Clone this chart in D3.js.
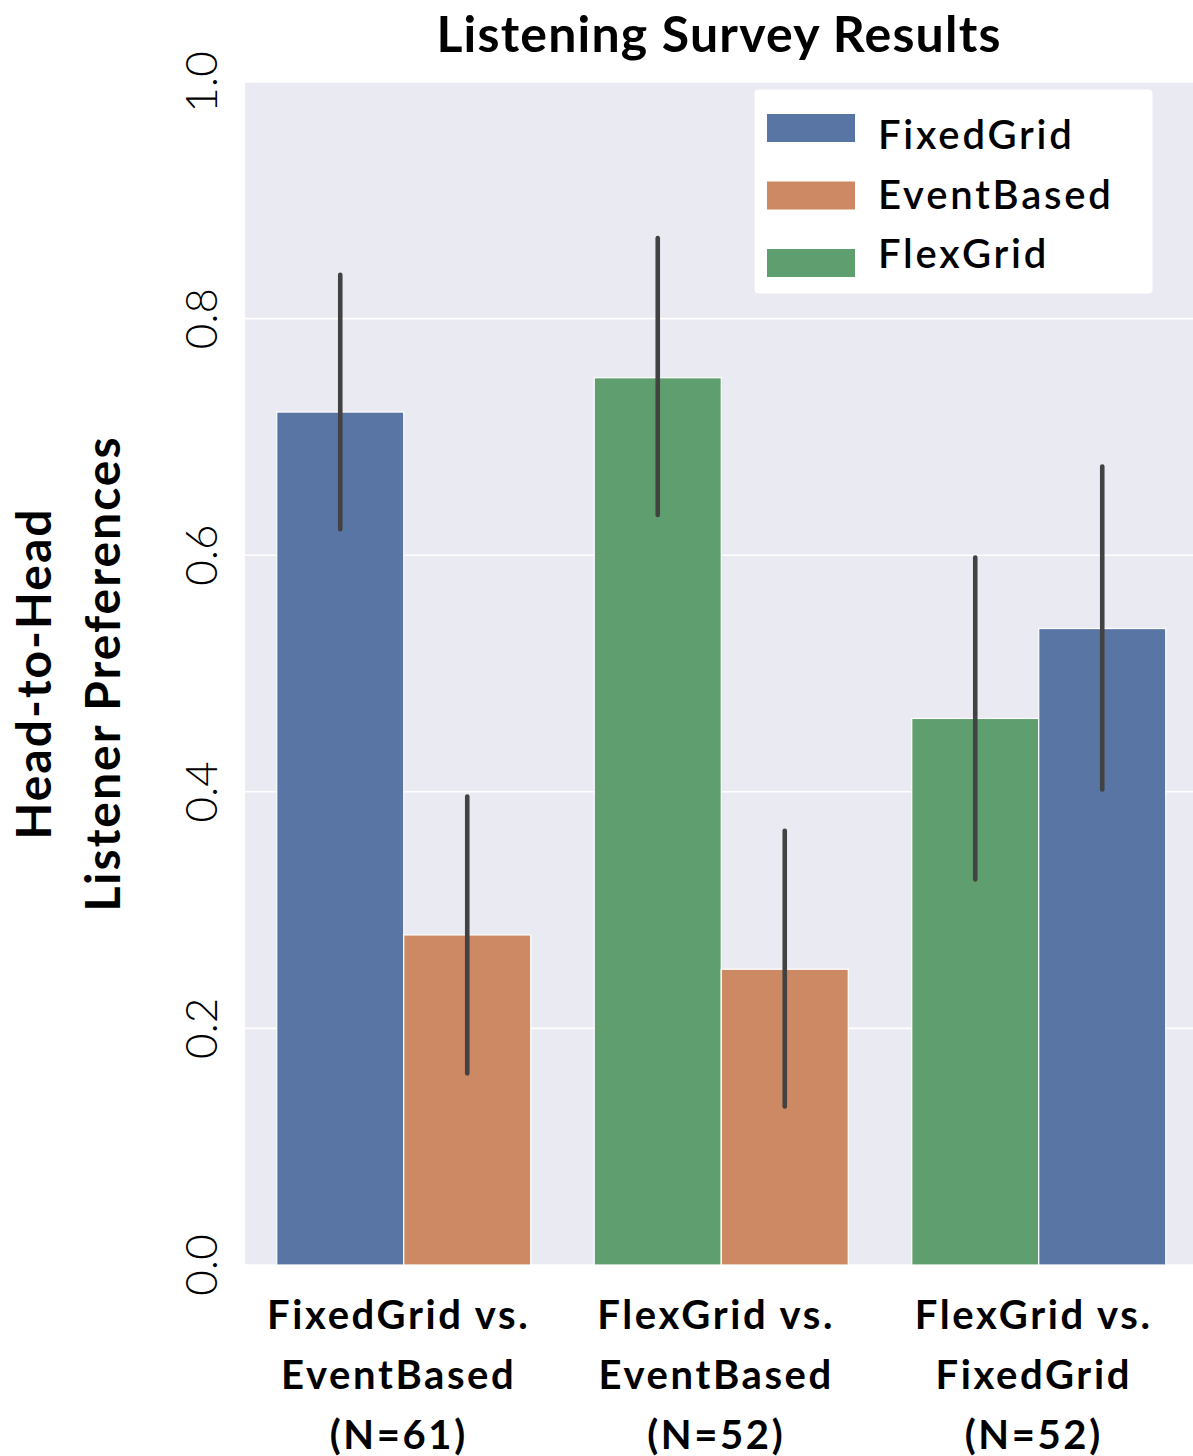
<!DOCTYPE html>
<html>
<head>
<meta charset="utf-8">
<script src="https://cdn.jsdelivr.net/npm/d3@7"></script>
<style>
  html, body { margin: 0; padding: 0; background: #ffffff; }
  svg { display: block; }
  text { font-family: Lato, "Open Sans", sans-serif; fill: #000; }
</style>
</head>
<body>
<svg id="chart" width="1193" height="1456"></svg>
<script>
// ---- data ----
const groups = ["FixedGrid vs. EventBased (N=61)", "FlexGrid vs. EventBased (N=52)", "FlexGrid vs. FixedGrid (N=52)"];
const groupLines = [["FixedGrid vs.", "EventBased", "(N=61)"], ["FlexGrid vs.", "EventBased", "(N=52)"], ["FlexGrid vs.", "FixedGrid", "(N=52)"]];
const methods = ["FixedGrid", "EventBased", "FlexGrid"];
const leftMethod = ["FixedGrid", "FlexGrid", "FlexGrid"];
const leftValue = [0.721, 0.750, 0.462];
const leftLow = [0.622, 0.634, 0.326];
const leftHigh = [0.837, 0.868, 0.598];
const rightMethod = ["EventBased", "EventBased", "FixedGrid"];
const rightValue = [0.279, 0.250, 0.538];
const rightLow = [0.162, 0.134, 0.402];
const rightHigh = [0.396, 0.367, 0.675];
const yTicks = [0.0, 0.2, 0.4, 0.6, 0.8, 1.0];
const title = "Listening Survey Results";
const yLabel = ["Head-to-Head", "Listener Preferences"];

// ---- layout ----
const svg = d3.select("#chart");
const plot = { left: 245, top: 82, bottom: 1265, right: 1197.5 };
const color = d3.scaleOrdinal().domain(methods).range(["#5875a4", "#cc8963", "#5f9e6e"]);

const x = d3.scaleBand().domain(groups).range([plot.left, plot.right]).paddingInner(0).paddingOuter(0);
const y = d3.scaleLinear().domain([0, 1]).range([plot.bottom, plot.top]);
const groupW = x.bandwidth() * 0.8;
const sub = d3.scaleBand().domain(["L", "R"]).range([-groupW / 2, groupW / 2]);

// background
svg.append("rect").attr("x", plot.left).attr("y", plot.top)
  .attr("width", plot.right - plot.left).attr("height", plot.bottom - plot.top)
  .attr("fill", "#eaeaf2");

// grid
svg.append("g").selectAll("line").data(yTicks).join("line")
  .attr("x1", plot.left).attr("x2", plot.right)
  .attr("y1", d => y(d)).attr("y2", d => y(d))
  .attr("stroke", "#ffffff").attr("stroke-width", 1.6);

// y tick labels (rotated)
svg.append("g").selectAll("text").data(yTicks).join("text")
  .attr("transform", d => `translate(217,${y(d)}) rotate(-90)`)
  .attr("text-anchor", "middle")
  .attr("font-size", 44).attr("font-weight", 300)
  .text(d => d.toFixed(1));

// bars
const bars = [];
groups.forEach((g, i) => {
  bars.push({ g, side: "L", method: leftMethod[i], v: leftValue[i], lo: leftLow[i], hi: leftHigh[i] });
  bars.push({ g, side: "R", method: rightMethod[i], v: rightValue[i], lo: rightLow[i], hi: rightHigh[i] });
});
const cx = d => x(d.g) + x.bandwidth() / 2;
svg.append("g").selectAll("rect").data(bars).join("rect")
  .attr("x", d => cx(d) + sub(d.side))
  .attr("width", sub.bandwidth())
  .attr("y", d => y(d.v))
  .attr("height", d => y(0) - y(d.v))
  .attr("fill", d => color(d.method))
  .attr("stroke", "#ffffff").attr("stroke-width", 1.2);

// error bars
svg.append("g").selectAll("line").data(bars).join("line")
  .attr("x1", d => cx(d) + sub(d.side) + sub.bandwidth() / 2)
  .attr("x2", d => cx(d) + sub(d.side) + sub.bandwidth() / 2)
  .attr("y1", d => y(d.lo)).attr("y2", d => y(d.hi))
  .attr("stroke", "#424242").attr("stroke-width", 4.6).attr("stroke-linecap", "round");

// x labels
const xl = svg.append("g").selectAll("text").data(groups).join("text")
  .attr("text-anchor", "middle")
  .attr("font-size", 40).attr("font-weight", 700).attr("letter-spacing", 2.6);
xl.each(function (g, i) {
  const t = d3.select(this);
  groupLines[i].forEach((line, j) => {
    t.append("tspan").attr("x", x(g) + x.bandwidth() / 2 - 5).attr("y", 1329 + j * 60).text(line);
  });
});

// title
svg.append("text").attr("x", (plot.left + 1193) / 2).attr("y", 52)
  .attr("text-anchor", "middle").attr("font-size", 50).attr("font-weight", 700)
  .attr("letter-spacing", 1.2)
  .text(title);

// y label
const yl = svg.append("text")
  .attr("transform", `translate(0,${(plot.top + plot.bottom) / 2}) rotate(-90)`)
  .attr("text-anchor", "middle").attr("font-size", 48).attr("font-weight", 700)
  .attr("letter-spacing", 2);
yLabel.forEach((line, j) => {
  yl.append("tspan").attr("x", 0).attr("y", 51 + j * 69).text(line);
});

// legend
const leg = svg.append("g");
leg.append("rect").attr("x", 755).attr("y", 90).attr("width", 397).attr("height", 203)
  .attr("rx", 3).attr("fill", "#ffffff").attr("stroke", "#ffffff");
const li = leg.selectAll("g").data(methods).join("g");
li.append("rect").attr("x", 767).attr("y", (d, i) => 114 + i * 67.5).attr("width", 88).attr("height", 28)
  .attr("fill", d => color(d));
li.append("text").attr("x", 878).attr("y", (d, i) => 149 + i * 59.5)
  .attr("font-size", 40).attr("font-weight", 600).attr("letter-spacing", 2.8)
  .text(d => d);
</script>
</body>
</html>
